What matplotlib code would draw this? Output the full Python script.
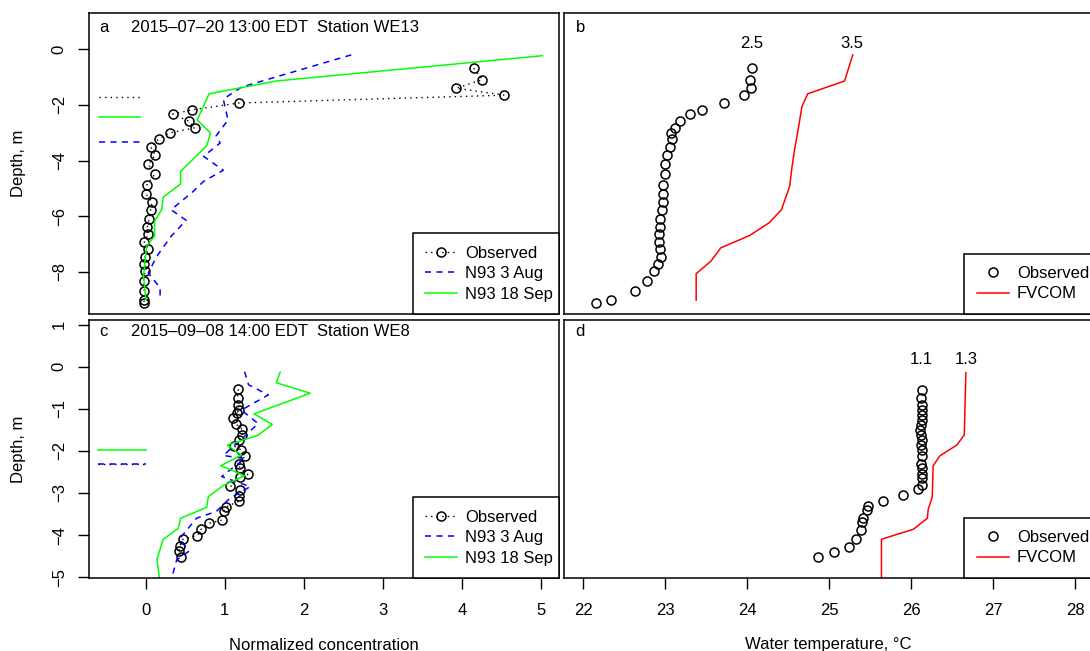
import matplotlib
matplotlib.use("Agg")
import matplotlib.pyplot as plt

plt.rcParams['font.family'] = ['Liberation Sans', 'DejaVu Sans']

# ---- panel a / b : 2015-07-20 Station WE13 ----
obs_depth_ab = [-0.68, -1.09, -1.40, -1.65, -1.93, -2.18, -2.33, -2.58, -2.82, -3.01, -3.23,
                -3.50, -3.80, -4.14, -4.50, -4.89, -5.20, -5.49, -5.77, -6.11, -6.38, -6.65,
                -6.94, -7.20, -7.46, -7.73, -7.99, -8.33, -8.71, -9.02, -9.14]
obs_conc_a = [4.15, 4.26, 3.93, 4.54, 1.18, 0.58, 0.34, 0.54, 0.62, 0.30, 0.16,
              0.06, 0.12, 0.03, 0.11, 0.01, 0.00, 0.08, 0.06, 0.04, 0.02, 0.03,
              -0.02, 0.03, -0.01, -0.02, -0.01, -0.03, -0.02, -0.02, -0.03]
aug_conc_a = [2.60, 1.21, 0.98, 1.04, 0.89, 0.94, 0.73, 0.98, 0.73, 0.60, 0.32, 0.51, 0.32, 0.14, 0.03, 0.18, 0.18]
aug_depth_a = [-0.20, -1.36, -1.79, -2.54, -3.11, -3.37, -3.85, -4.35, -4.75, -5.11, -5.77, -6.15, -6.72, -7.44, -8.04, -8.58, -9.00]
sep_conc_a = [5.02, 1.65, 0.80, 0.65, 0.82, 0.77, 0.44, 0.44, 0.22, 0.20, 0.11, 0.11, 0.01, -0.03, 0.00]
sep_depth_a = [-0.23, -1.14, -1.60, -2.54, -3.01, -3.47, -4.39, -4.84, -5.32, -5.77, -6.18, -6.72, -7.08, -8.16, -9.00]
mark_x_a = [-0.59, -0.08]
mark_obs_a, mark_aug_a, mark_sep_a = -1.70, -3.34, -2.45

obs_temp_b = [24.06, 24.04, 24.05, 23.96, 23.72, 23.45, 23.30, 23.18, 23.12, 23.07, 23.08,
              23.06, 23.02, 23.00, 23.00, 22.98, 22.98, 22.98, 22.96, 22.94, 22.94, 22.93,
              22.93, 22.94, 22.95, 22.91, 22.86, 22.78, 22.63, 22.34, 22.16]
fvcom_temp_b = [25.29, 25.19, 24.74, 24.67, 24.63, 24.58, 24.55, 24.52, 24.42, 24.27, 24.03, 23.68, 23.56, 23.38, 23.38]
fvcom_depth_b = [-0.20, -1.14, -1.60, -2.06, -2.78, -3.61, -4.21, -4.93, -5.77, -6.24, -6.70, -7.14, -7.62, -8.07, -9.02]
labels_b = ['2.5', '3.5']
labels_b_x = [24.06, 25.28]
labels_b_y = 0.20

# ---- panel c / d : 2015-09-08 Station WE8 ----
obs_conc_c = [1.17, 1.16, 1.17, 1.18, 1.15, 1.10, 1.14, 1.22, 1.22, 1.18, 1.11, 1.21, 1.26, 1.18, 1.19, 1.29,
              1.19, 1.07, 1.19, 1.18, 1.18, 1.02, 0.99, 0.97, 0.80, 0.70, 0.65, 0.47, 0.43, 0.42, 0.44]
obs_depth_c = [-0.54, -0.74, -0.91, -1.03, -1.11, -1.21, -1.36, -1.49, -1.62, -1.74, -1.88, -1.98, -2.12, -2.30,
               -2.41, -2.56, -2.61, -2.83, -2.93, -3.07, -3.19, -3.33, -3.42, -3.64, -3.72, -3.86, -4.01,
               -4.10, -4.26, -4.37, -4.51]
aug_conc_c = [1.25, 1.30, 1.55, 1.21, 1.42, 1.27, 0.98, 1.25, 0.96, 1.32, 1.06, 0.89, 0.64, 0.43, 0.54, 0.39, 0.33]
aug_depth_c = [-0.12, -0.43, -0.67, -1.03, -1.35, -1.62, -2.11, -2.18, -2.61, -2.85, -3.13, -3.44, -3.60, -4.08, -4.39, -4.59, -5.00]
sep_conc_c = [1.70, 1.65, 2.08, 1.37, 1.60, 1.42, 1.03, 1.21, 0.95, 1.25, 0.98, 0.79, 0.77, 0.44, 0.41, 0.22, 0.14, 0.17]
sep_depth_c = [-0.13, -0.38, -0.63, -1.12, -1.37, -1.63, -1.86, -2.10, -2.35, -2.59, -2.82, -3.09, -3.34, -3.60, -3.84, -4.10, -4.57, -5.00]
mark_x_c = [-0.60, 0.0]
mark_obs_c, mark_aug_c, mark_sep_c = -2.30, -2.30, -1.98

obs_temp_d = [26.13, 26.12, 26.13, 26.14, 26.13, 26.13, 26.12, 26.11, 26.12, 26.13, 26.12, 26.13, 26.13, 26.12,
              26.13, 26.13, 26.13, 26.14, 26.08, 25.90, 25.66, 25.48, 25.46, 25.42, 25.40, 25.39, 25.33,
              25.24, 25.06, 24.86]
obs_depth_d = [-0.55, -0.74, -0.91, -1.03, -1.15, -1.27, -1.38, -1.50, -1.62, -1.74, -1.86, -1.98, -2.12, -2.30,
               -2.41, -2.55, -2.65, -2.81, -2.91, -3.05, -3.18, -3.32, -3.40, -3.60, -3.70, -3.88, -4.10,
               -4.29, -4.41, -4.51]
fvcom_temp_d = [26.67, 26.65, 26.56, 26.35, 26.27, 26.26, 26.21, 26.20, 26.03, 25.64, 25.64]
fvcom_depth_d = [-0.14, -1.62, -1.86, -2.12, -2.36, -3.09, -3.39, -3.60, -3.86, -4.10, -5.00]
labels_d = ['1.1', '1.3']
labels_d_x = [26.12, 26.67]
labels_d_y = 0.16

GREEN, BLUE, RED = '#00ff00', '#0000ff', '#ff0000'
FS = 12

fig = plt.figure(figsize=(10.9, 6.51), dpi=100)
W, H = 1090., 651.
def box(x0, y0, x1, y1):
    return [x0 / W, 1 - y1 / H, (x1 - x0) / W, (y1 - y0) / H]

ax_a = fig.add_axes(box(89, 13, 559, 314))
ax_b = fig.add_axes(box(564, 13, 1093, 314))
ax_c = fig.add_axes(box(89, 320, 559, 578))
ax_d = fig.add_axes(box(564, 320, 1093, 578))

for ax in (ax_a, ax_b, ax_c, ax_d):
    for s in ax.spines.values():
        s.set_linewidth(1.1)
    ax.tick_params(direction='out', length=8, width=1, labelsize=FS)
    ax.tick_params(axis='y', pad=8)
    ax.tick_params(axis='x', pad=10)

obs_kw = dict(color='black', marker='o', mfc='none', mec='black', ms=6.5, mew=1.1)
leg_kw = dict(loc='lower left', mode='expand', borderaxespad=0, fancybox=False, framealpha=1,
              edgecolor='black', fontsize=FS, borderpad=0.75, labelspacing=0.32,
              handlelength=1.9, handletextpad=0.5)

def conc_panel(ax, oc, od, ac, ad, sc, sd, mx, mo, ma, ms_):
    ax.plot(oc, od, linestyle=(0, (1, 3)), lw=1, label='Observed', **obs_kw)
    ax.plot(ac, ad, color=BLUE, lw=1.1, dashes=(4, 3.5), label='N93 3 Aug')
    ax.plot(sc, sd, color=GREEN, lw=1.1, label='N93 18 Sep')
    ax.plot(mx, [ms_, ms_], color=GREEN, lw=1.1)
    ax.plot(mx, [mo, mo], color='black', lw=1, linestyle=(0, (1, 3)))
    ax.plot(mx, [ma, ma], color=BLUE, lw=1.1, dashes=(4, 3.5))
    ax.set_xlim(-0.72, 5.23)
    ax.set_xticks([0, 1, 2, 3, 4, 5])
    leg = ax.legend(bbox_to_anchor=(0.689, 0, 0.311, 0.3), **leg_kw)
    leg.get_frame().set_linewidth(1.1)

def temp_panel(ax, ot, od, ft, fd, labs, lx, ly):
    ax.plot(ot, od, linestyle='none', label='Observed', **obs_kw)
    ax.plot(ft, fd, color=RED, lw=1.1, label='FVCOM')
    for t, x in zip(labs, lx):
        ax.text(x, ly, t, ha='center', va='center', fontsize=FS)
    ax.set_xlim(21.768, 28.22)
    ax.set_xticks([22, 23, 24, 25, 26, 27, 28])
    ax.set_yticks([])
    leg = ax.legend(bbox_to_anchor=(0.757, 0, 0.243, 0.3), **leg_kw)
    leg.get_frame().set_linewidth(1.1)

conc_panel(ax_a, obs_conc_a, obs_depth_ab, aug_conc_a, aug_depth_a, sep_conc_a, sep_depth_a,
           mark_x_a, mark_obs_a, mark_aug_a, mark_sep_a)
conc_panel(ax_c, obs_conc_c, obs_depth_c, aug_conc_c, aug_depth_c, sep_conc_c, sep_depth_c,
           mark_x_c, mark_obs_c, mark_aug_c, mark_sep_c)
temp_panel(ax_b, obs_temp_b, obs_depth_ab, fvcom_temp_b, fvcom_depth_b, labels_b, labels_b_x, labels_b_y)
temp_panel(ax_d, obs_temp_d, obs_depth_d, fvcom_temp_d, fvcom_depth_d, labels_d, labels_d_x, labels_d_y)

for ax in (ax_a, ax_b):
    ax.set_ylim(-9.52, 1.306)
    ax.set_xticks([])
for ax in (ax_c, ax_d):
    ax.set_ylim(-5.019, 1.109)

ax_a.set_yticks([0, -2, -4, -6, -8])
ax_c.set_yticks([1, 0, -1, -2, -3, -4, -5])
for ax in (ax_a, ax_c):
    for lab in ax.get_yticklabels():
        lab.set_rotation(90)
        lab.set_va('center')

ax_a.text(0.021, 0.953, 'a', transform=ax_a.transAxes, fontsize=FS, va='center')
ax_a.text(0.089, 0.953, '2015\u201307\u201320 13:00 EDT  Station WE13', transform=ax_a.transAxes,
          fontsize=FS, va='center')
ax_c.text(0.021, 0.955, 'c', transform=ax_c.transAxes, fontsize=FS, va='center')
ax_c.text(0.089, 0.955, '2015\u201309\u201308 14:00 EDT  Station WE8', transform=ax_c.transAxes,
          fontsize=FS, va='center')
ax_b.text(0.022, 0.953, 'b', transform=ax_b.transAxes, fontsize=FS, va='center')
ax_d.text(0.022, 0.955, 'd', transform=ax_d.transAxes, fontsize=FS, va='center')

fig.text(324 / W, 1 - 645 / H, 'Normalized concentration', ha='center', va='center', fontsize=FS)
fig.text(828 / W, 1 - 645 / H, 'Water temperature, \u00b0C', ha='center', va='center', fontsize=FS)
fig.text(18 / W, 1 - 163 / H, 'Depth, m', rotation=90, ha='center', va='center', fontsize=FS)
fig.text(18 / W, 1 - 449 / H, 'Depth, m', rotation=90, ha='center', va='center', fontsize=FS)

fig.savefig('out.png', dpi=100)
